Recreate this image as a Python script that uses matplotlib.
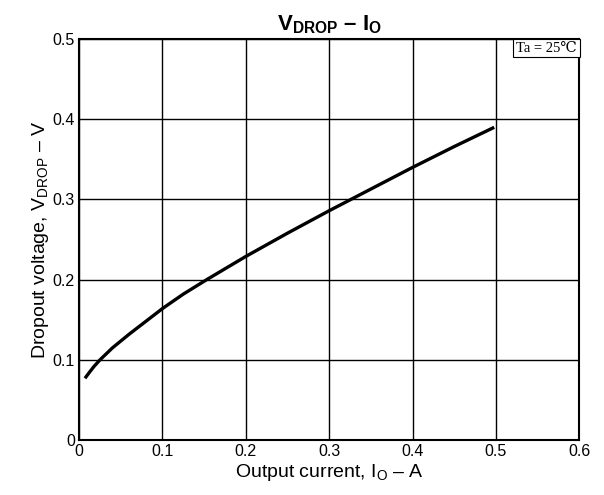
import matplotlib.pyplot as plt
from matplotlib.ticker import FixedLocator, FixedFormatter

plt.rcParams['font.family'] = ['Liberation Sans', 'DejaVu Sans']
plt.rcParams['mathtext.fontset'] = 'custom'
plt.rcParams['mathtext.rm'] = 'Liberation Sans'
plt.rcParams['mathtext.it'] = 'Liberation Sans'
plt.rcParams['mathtext.bf'] = 'Liberation Sans:bold'

# curve
current = [0.007, 0.012, 0.018, 0.025, 0.04, 0.06, 0.08, 0.1, 0.125, 0.153, 0.2,
           0.25, 0.3, 0.35, 0.4, 0.45, 0.498]
vdrop = [0.077, 0.084, 0.092, 0.100, 0.115, 0.132, 0.148, 0.164, 0.182, 0.200, 0.229,
         0.258, 0.286, 0.313, 0.340, 0.366, 0.390]

x_ticks = [0, 0.1, 0.2, 0.3, 0.4, 0.5, 0.6]
x_labels = ['0', '0.1', '0.2', '0.3', '0.4', '0.5', '0.6']
y_ticks = [0, 0.1, 0.2, 0.3, 0.4, 0.5]
y_labels = ['0', '0.1', '0.2', '0.3', '0.4', '0.5']

fig = plt.figure(figsize=(6.04, 4.95), dpi=100)
ax = fig.add_axes([0.131, 0.111, 0.828, 0.810])

ax.plot(current, vdrop, color='black', lw=2.4, solid_capstyle='butt',
        solid_joinstyle='round')

ax.set_xlim(0, 0.6)
ax.set_ylim(0, 0.5)
ax.xaxis.set_major_locator(FixedLocator(x_ticks))
ax.xaxis.set_major_formatter(FixedFormatter(x_labels))
ax.yaxis.set_major_locator(FixedLocator(y_ticks))
ax.yaxis.set_major_formatter(FixedFormatter(y_labels))
ax.tick_params(length=0, labelsize=11.5, pad=3)
ax.grid(True, color='black', lw=1.0)
for s in ax.spines.values():
    s.set_linewidth(1.5)

ax.set_xlabel(r'Output current, I$_\mathregular{O}$ – A', fontsize=14, labelpad=2)
ax.set_ylabel(r'Dropout voltage, V$_\mathregular{DROP}$ – V', fontsize=14, labelpad=1)
ax.set_title(r'$\mathbf{V_{DROP}\ –\ I_O}$', fontsize=16, pad=6)

ax.text(0.597, 0.497, 'Ta = 25℃', ha='right', va='top', fontsize=10.5,
        family=['Liberation Serif', 'DejaVu Serif', 'DejaVu Sans'],
        bbox=dict(facecolor='white', edgecolor='black', lw=0.8, pad=2))

fig.savefig('out.png', dpi=100)
